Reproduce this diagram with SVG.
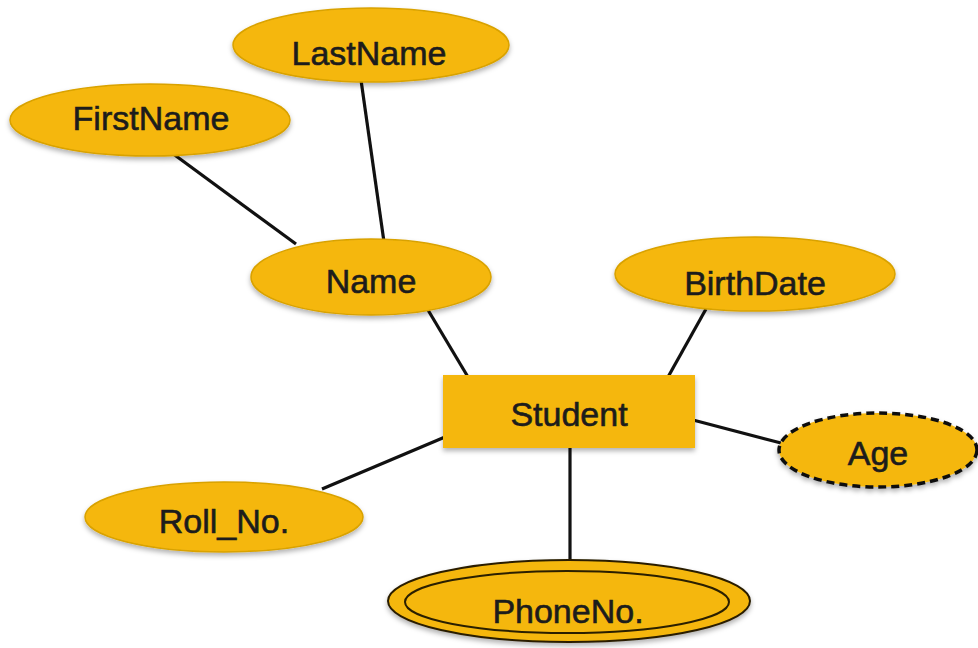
<svg xmlns="http://www.w3.org/2000/svg" width="978" height="648" viewBox="0 0 978 648">
<defs>
<filter id="sh" x="-10%" y="-20%" width="120%" height="150%">
<feDropShadow dx="0" dy="3" stdDeviation="2.5" flood-color="#000" flood-opacity="0.3"/>
</filter>
</defs>
<style>
.n{fill:#F5B70C;stroke:#D9A200;stroke-width:1.5;filter:url(#sh)}
.t{font-family:"Liberation Sans",Arial,sans-serif;font-size:34px;fill:#1c1c1c;stroke:#1c1c1c;stroke-width:0.6;text-anchor:middle}
.c line{stroke:#111;stroke-width:3.2}
</style>
<rect width="978" height="648" fill="#fff"/>
<g class="c" id="connectors">
<line x1="361" y1="80" x2="384" y2="242"/>
<line x1="172" y1="153" x2="296" y2="244"/>
<line x1="428" y1="310" x2="468" y2="377"/>
<line x1="706" y1="309" x2="668" y2="377"/>
<line x1="693" y1="420" x2="781" y2="443"/>
<line x1="445" y1="437" x2="322" y2="489"/>
<line x1="570" y1="446" x2="570" y2="561"/>
</g>
<g id="lastname"><ellipse class="n" cx="371" cy="45" rx="138" ry="37"/><text class="t" x="369" y="65">LastName</text></g>
<g id="firstname"><ellipse class="n" cx="150" cy="120" rx="140" ry="36"/><text class="t" x="151" y="130">FirstName</text></g>
<g id="name"><ellipse class="n" cx="371" cy="277" rx="120" ry="38"/><text class="t" x="371" y="293">Name</text></g>
<g id="birthdate"><ellipse class="n" cx="755" cy="274" rx="140" ry="37"/><text class="t" x="755" y="295">BirthDate</text></g>
<g id="student"><rect class="n" x="443" y="375" width="252" height="73" style="stroke:none"/><text class="t" x="569" y="426">Student</text></g>
<g id="age"><ellipse cx="878" cy="450" rx="99" ry="37" fill="#F5B70C" stroke="#111" stroke-width="3.5" stroke-dasharray="8 5" filter="url(#sh)"/><text class="t" x="878" y="465">Age</text></g>
<g id="rollno"><ellipse class="n" cx="224" cy="517" rx="139" ry="35"/><text class="t" x="224" y="533">Roll_No.</text></g>
<g id="phoneno"><ellipse cx="569" cy="601" rx="181" ry="41" fill="#F5B70C" stroke="#2a1f00" stroke-width="2" filter="url(#sh)"/><ellipse cx="567" cy="602" rx="162" ry="31" fill="none" stroke="#2a1f00" stroke-width="2"/><text class="t" x="568" y="623">PhoneNo.</text></g>
</svg>
